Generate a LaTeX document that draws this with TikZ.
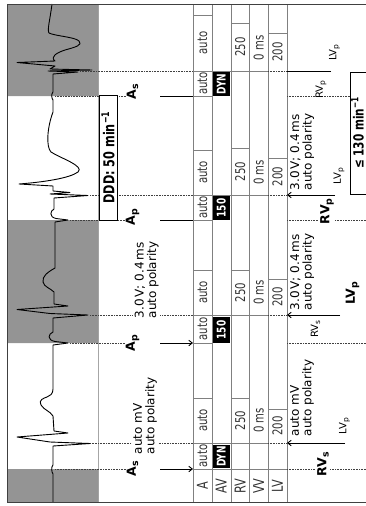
\documentclass[tikz,border=0pt]{standalone}
\usepackage{fontspec}
\setmainfont{DejaVu Sans}
\newfontfamily\cnd[FakeStretch=0.75]{DejaVu Sans}
\usetikzlibrary{arrows.meta}
\newcommand\sbs[1]{\raisebox{-0.35ex}{\scalebox{0.75}{#1}}}

\tikzset{
  rot/.style={rotate=90,inner sep=1pt},
  mk/.style={rot,fill=white,font=\bfseries\fontsize{12.5}{12.5}\selectfont},
  mksm/.style={rot,font=\fontsize{10}{10}\selectfont},
  note/.style={rot,fill=white,inner sep=1.5pt,align=left,font=\fontsize{12}{12.5}\selectfont},
  val/.style={rot,text=black!80,font=\cnd\fontsize{13.5}{13.5}\selectfont},
  head/.style={rot,text=black!80,font=\cnd\fontsize{15}{15}\selectfont},
  blk/.style={rot,fill=black,text=white,inner sep=0pt,font=\cnd\bfseries\fontsize{12}{12}\selectfont},
  rate/.style={rot,draw,fill=white,line width=0.9pt,inner sep=0pt,font=\cnd\bfseries\fontsize{15}{15}\selectfont},
  evt/.style={densely dotted,line width=0.6pt,black!75},
  cl/.style={line width=0.5pt,black!50},
  mrk/.style={line width=0.9pt}
}

\begin{document}
\begin{tikzpicture}[x=1pt,y=-1pt,>={Straight Barb[length=3.5pt,width=5.5pt]}]
\useasboundingbox (0,0) rectangle (366,506);
\clip (0,0) rectangle (366,506);

% ECG strip
\draw[black!35] (98,4) -- (98,502);
\fill[black!42] (7,4) rectangle (98,96) (7,220) rectangle (98,343) (7,469) rectangle (98,502);

% table grid
\foreach \x in {193,212,231,249.5,268,287} \draw[cl] (\x,4) -- (\x,502);
\draw[cl] (193,469) -- (287,469);
\foreach \y in {398,343,270,220,150,96,15} \draw[cl] (193,\y) -- (212,\y);
\foreach \y in {398,270,148,23} \draw[cl] (231,\y) -- (249.5,\y);
\foreach \y in {409,279,158,33} \draw[cl] (268,\y) -- (287,\y);

% events
\foreach \n/\ex/\y in {As1/55/469,Ap1/70/343,Ap2/70/220,As2/55/96}{
  \coordinate (\n-ecg) at (\ex,\y);
  \coordinate (\n-in) at (160,\y);
  \coordinate (\n-tab) at (193,\y);
  \coordinate (\n-out) at (287,\y);
}
\foreach \n/\ex/\y/\vx in {V1/90/443/345,V2/90/315/340,V3/90/195/335,V4/80/71/331}{
  \coordinate (\n-ecg) at (\ex,\y);
  \coordinate (\n-tab) at (193,\y);
  \coordinate (\n-lv) at (268,\y);
  \coordinate (\n-out) at (287,\y);
  \coordinate (\n-end) at (\vx,\y);
}
\coordinate (edge) at (366,0);
\foreach \n in {V1,V2,V3,V4}{
  \draw[evt] (\n-ecg) -- (\n-tab);
  \draw[cl] (\n-tab) -- (\n-lv);
  \draw[evt] (\n-lv) -- (\n-out);
}
\foreach \n in {As1,Ap1,Ap2} \draw[evt] (\n-out) -- (\n-out -| edge);
\coordinate (uredge) at (350,0);
\draw[evt] (As2-out) -- (As2-out -| uredge);

% ECG trace
\draw[line width=0.9pt,line join=round]
 (53,502) -- (53,474) .. controls (51.5,472) and (51,467) .. (53,465)
 -- (53,446) -- (90,443.5) -- (50,442) -- (17,437) -- (68,433) -- (54,431)
 -- (53,416) .. controls (50,411) and (44,410) .. (41,405)
 .. controls (38,400) and (44,398) .. (47,397)
 .. controls (50,396) and (53,394) .. (53,389)
 -- (53,345) -- (68,343) -- (55,341.5) .. controls (47,340) and (48,334) .. (53,332)
 -- (53,318) -- (88,315) -- (50,313.5) -- (17,309.5) -- (68,306) -- (54,304)
 -- (54,292) .. controls (50,288) and (44,287) .. (43,282)
 .. controls (42,276) and (48,272) .. (55,268)
 -- (55,222) -- (68,220) -- (56,218.5) .. controls (49,217) and (50,211) .. (54,209)
 -- (54,198) -- (88,195.5) -- (50,194) -- (70,192.5) -- (53,191)
 -- (53,186) -- (19,184) .. controls (45,182) and (70,178) .. (78,172)
 .. controls (85,166) and (60,158) .. (51,152)
 .. controls (46,147) and (47,128) .. (53,112)
 -- (53,100) .. controls (51.5,98) and (51,94) .. (53,92)
 -- (53,74) -- (78,72) -- (48,71) -- (92,70) -- (50,69) -- (55,66) -- (17,62.5) -- (55,61)
 .. controls (50,57) and (56,53) .. (65,50)
 .. controls (76,47) and (83,45) .. (79,41)
 .. controls (75,37) and (55,36) .. (49,33)
 .. controls (47,30) and (50,20) .. (52,4);

\draw[black!75,line width=0.8pt] (7,4) rectangle (372,502);

% atrial markers
\node[mk] (As1) at (132.5,469) {A\sbs{s}};
\node[mk] (Ap1) at (132.5,343) {A\sbs{p}};
\node[mk] (Ap2) at (132.5,217) {A\sbs{p}};
\node[mk] (As2) at (132.5,92) {A\sbs{s}};
\foreach \n in {As1,Ap1,Ap2,As2} \draw[evt] (\n-ecg) -- (\n-ecg -| \n.north);
\draw[mrk,->] (As1-in) -- (As1-tab);
\draw[mrk,->] (Ap1-in) -- (Ap1-tab);
\draw[mrk] (Ap2-in) -- (Ap2-tab);
\draw[mrk] (As2-in) -- (As2-tab);
\node[note,anchor=north west] (senseA) at (131.5,456) {auto mV\\auto polarity};
\node[note,anchor=north west] (paceA) at (133,320) {3.0\,V; 0.4\,ms\\auto polarity};
\node[rate,minimum width=125pt,minimum height=18pt] (ddd) at (108,157.5) {DDD: 50 min\textsuperscript{−1}};

% table
\foreach \t/\x in {A/202.5,AV/221.25,RV/240.25,VV/258.75,LV/277.5}
  \node[head] (row\t) at (\x,486) {\t};
\foreach \y in {456,420.5,329,292.5,207.5,172.5,83.5,43}
  \node[val] at (202.5,\y) {auto};
\node[blk,minimum width=23pt,minimum height=17.5pt] (av1) at (221.25,456.5) {DYN};
\node[blk,minimum width=26pt,minimum height=17.5pt] (av2) at (221.25,330) {150};
\node[blk,minimum width=24pt,minimum height=17.5pt] (av3) at (221.25,208) {150};
\node[blk,minimum width=24pt,minimum height=17.5pt] (av4) at (221.25,84) {DYN};
\foreach \y in {420.5,292.5,171.5,47} \node[val] at (240.25,\y) {250};
\foreach \y in {420.5,292.5,172.5,48} \node[val] at (258.75,\y) {0 ms};
\foreach \y in {426,297,176.5,52} \node[val] at (277.5,\y) {200};

% ventricular markers
\node[note,anchor=north west] (senseV) at (288.5,438) {auto mV\\auto polarity};
\node[note,anchor=north west] (paceV1) at (288.5,312) {3.0\,V; 0.4\,ms\\auto polarity};
\node[note,anchor=north west] (paceV2) at (288.5,192) {3.0\,V; 0.4\,ms\\auto polarity};
\foreach \n in {V1,V2,V3} \draw[mrk,->] (\n-end) -- (\n-out);
\draw[mrk] (V4-end) -- (V4-out);
\node[mk] (rv1) at (323,464.5) {RV\sbs{s}};
\node[mksm] (lv1) at (344.5,426) {LV\sbs{p}};
\node[mksm] (rv2) at (315.5,329) {RV\sbs{s}};
\node[mk] (lv2) at (352.5,293) {LV\sbs{p}};
\node[mk] (rv3) at (327,211.5) {RV\sbs{p}};
\node[mksm] (lv3) at (339,176) {LV\sbs{p}};
\node[mksm] (rv4) at (321,89.5) {RV\sbs{p}};
\node[mksm] (lv4) at (334.5,52.5) {LV\sbs{p}};
\draw[fill=white,line width=0.9pt] (350,72) rectangle (374,194);
\node[rot,font=\cnd\bfseries\fontsize{14}{14}\selectfont] (urate) at (357.5,133) {≤ 130 min\textsuperscript{−1}};
\end{tikzpicture}
\end{document}
